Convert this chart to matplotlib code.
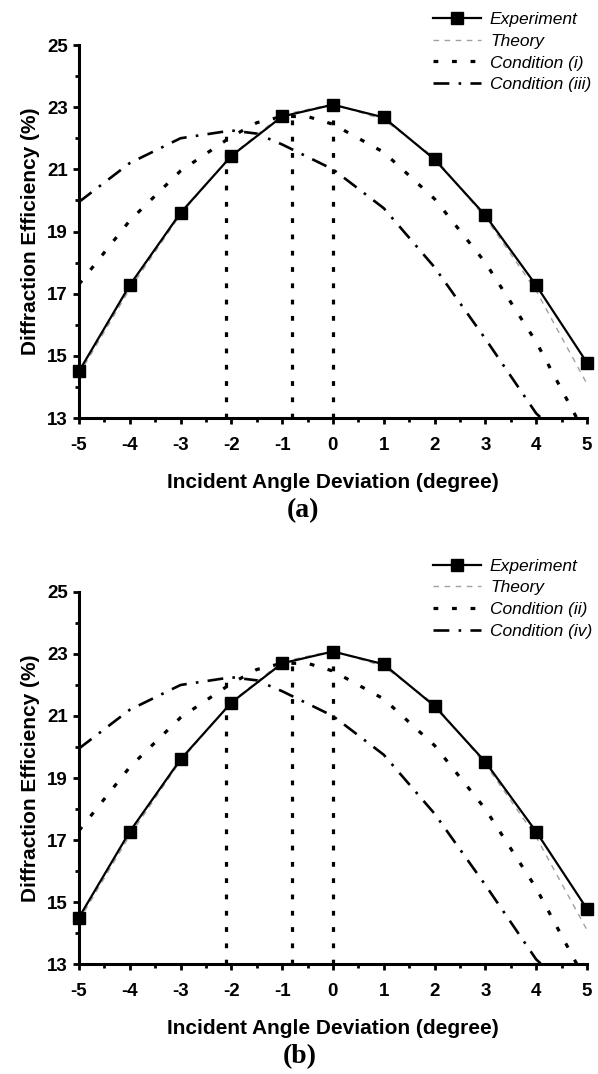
import matplotlib
matplotlib.use('Agg')
from matplotlib import pyplot as plt
from matplotlib.ticker import MultipleLocator

# data
angle = [-5, -4, -3, -2, -1, 0, 1, 2, 3, 4, 5]
experiment = [14.5, 17.27, 19.6, 21.43, 22.7, 23.08, 22.67, 21.32, 19.52, 17.27, 14.78]
theory = [14.4, 17.15, 19.55, 21.45, 22.75, 23.1, 22.6, 21.38, 19.45, 17.1, 14.1]

cond1_x = [-5, -4, -3, -2, -1.5, -1, -0.5, 0, 1, 2, 3, 4, 4.8]
cond1_y = [17.3, 19.35, 20.95, 22.05, 22.5, 22.7, 22.7, 22.45, 21.55, 20.05, 18.0, 15.45, 13.0]

cond2_x = [-5, -4, -3, -2, -1.5, -1, 0, 1, 2, 3, 4, 4.1]
cond2_y = [19.95, 21.2, 22.0, 22.25, 22.15, 21.8, 21.0, 19.75, 17.85, 15.55, 13.15, 13.0]

vline_x = [-2.1, -0.8, 0.0]
vline_top = [22.15, 22.7, 22.95]

panels = [
    ('(a)', 'Condition (i)', 'Condition (iii)'),
    ('(b)', 'Condition (ii)', 'Condition (iv)'),
]

plt.rcParams['font.family'] = ['Liberation Sans', 'DejaVu Sans']
plt.rcParams['axes.unicode_minus'] = False

fig = plt.figure(figsize=(5.98, 10.74), dpi=100)

ax_boxes = [[0.132, 0.6108, 0.8495, 0.3473],
            [0.132, 0.1024, 0.8495, 0.3464]]
leg_y = [0.997, 0.488]
tag_pos = [(0.507, 0.525), (0.502, 0.016)]

for i, (tag, lab1, lab2) in enumerate(panels):
    ax = fig.add_axes(ax_boxes[i])
    ax.vlines(vline_x, 13, vline_top, colors='black', linestyles=(0, (1.5, 3.6)), linewidth=2.3)
    ax.plot(cond1_x, cond1_y, color='black', linestyle=(0, (1.5, 4.3)), linewidth=2.3, label=lab1)
    ax.plot(cond2_x, cond2_y, color='black', linestyle=(0, (6, 3.5, 1, 3.5)), linewidth=1.9, label=lab2)
    ax.plot(angle, theory, color='#a0a0a0', linestyle=(0, (4, 4)), linewidth=1.0, label='Theory')
    ax.plot(angle, experiment, color='black', linewidth=1.6, marker='s', markersize=9,
            label='Experiment', clip_on=False, zorder=5)

    ax.set_xlim(-5, 5)
    ax.set_ylim(13, 25)
    ax.set_xticks(angle)
    ax.set_yticks([13, 15, 17, 19, 21, 23, 25])
    ax.xaxis.set_minor_locator(MultipleLocator(0.5))
    ax.yaxis.set_minor_locator(MultipleLocator(1))
    for s in ['top', 'right']:
        ax.spines[s].set_visible(False)
    for s in ['left', 'bottom']:
        ax.spines[s].set_linewidth(2.2)
    ax.tick_params(which='major', direction='out', length=4, width=2, labelsize=13.5)
    ax.tick_params(which='minor', direction='out', length=3, width=2)
    ax.tick_params(axis='x', which='major', pad=10)
    ax.tick_params(axis='y', which='major', pad=4)
    for t in ax.get_xticklabels() + ax.get_yticklabels():
        t.set_fontweight('bold')
    ax.set_xlabel('Incident Angle Deviation (degree)', fontsize=15, fontweight='bold', labelpad=13)
    ax.set_ylabel('Diffraction Efficiency (%)', fontsize=15, fontweight='bold', labelpad=5)

    h, l = ax.get_legend_handles_labels()
    order = [3, 2, 0, 1]
    ax.legend([h[k] for k in order], [l[k] for k in order], loc='upper left',
              bbox_to_anchor=(0.709, leg_y[i]), bbox_transform=fig.transFigure,
              frameon=False, prop={'style': 'italic', 'size': 12.5},
              handlelength=2.8, handletextpad=0.5, labelspacing=0.38, borderpad=0)

    fig.text(tag_pos[i][0], tag_pos[i][1], tag, ha='center', va='center', fontsize=20,
             fontweight='bold', family='Liberation Serif')

fig.savefig('out.png', dpi=100)
